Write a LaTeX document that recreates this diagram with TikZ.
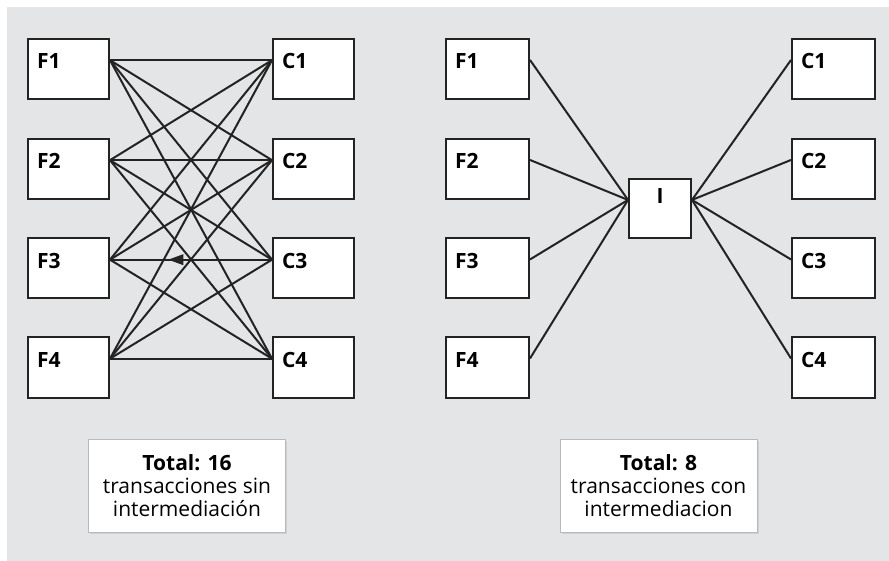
\documentclass[tikz,border=0pt]{standalone}
\usepackage{fontspec}
\setmainfont{Open Sans}
\usepackage{xcolor}
\usepackage{tikz}
\usetikzlibrary{decorations.markings,shadows}

\definecolor{panelgray}{RGB}{228,229,231}
\definecolor{inkline}{RGB}{35,35,35}
\definecolor{totalrim}{RGB}{185,185,185}

\tikzset{
    agentbox/.style={draw=inkline, fill=white, line width=2pt,
        minimum width=#1, minimum height=60pt,
        inner xsep=9pt, inner ysep=0pt,
        text width=#1-18pt, align=left,
        text height=29pt, text depth=29pt,
        font=\fontsize{21}{24}\selectfont\bfseries},
    agentbox/.default=81pt,
    link/.style={draw=inkline, line width=2pt},
    totalbox/.style={draw=totalrim, fill=white, line width=1pt,
        minimum width=197pt, minimum height=93pt, align=center,
        font=\fontsize{21}{23}\selectfont,
        drop shadow={shadow xshift=1.5pt, shadow yshift=-1.5pt, fill=black!25}}
}

\begin{document}
\begin{tikzpicture}[x=1pt, y=-1pt]
        \useasboundingbox (0,0) rectangle (889,561);
        \fill[panelgray] (7,7) rectangle (889,561);

        % sin intermediacion
        \node [agentbox] (f1) at (68.5,69) {F1};
        \node [agentbox] (f2) at (68.5,169) {F2};
        \node [agentbox] (f3) at (68.5,268.5) {F3};
        \node [agentbox] (f4) at (68.5,367.5) {F4};
        \node [agentbox] (c1) at (313.5,69) {C1};
        \node [agentbox] (c2) at (313.5,169) {C2};
        \node [agentbox] (c3) at (313.5,268.5) {C3};
        \node [agentbox] (c4) at (313.5,367.5) {C4};

        \draw[link] (f1.12)--(c1.168);
        \draw[link] (f1.12)--(c2.168);
        \draw[link] (f1.12)--(c3.168);
        \draw[link] (f1.12)--(c4.168);
        \draw[link] (f2.12)--(c1.168);
        \draw[link] (f2.12)--(c2.168);
        \draw[link] (f2.12)--(c3.168);
        \draw[link] (f2.12)--(c4.168);
        \draw[link] (f3.12)--(c1.168);
        \draw[link] (f3.12)--(c2.168);
        \draw[link, postaction={decorate}, decoration={markings,
            mark=at position 0.36 with {\fill[inkline] (0,0)--(15,5.5)--(15,-5.5)--cycle;}}]
            (f3.12)--(c3.168);
        \draw[link] (f3.12)--(c4.168);
        \draw[link] (f4.12)--(c1.168);
        \draw[link] (f4.12)--(c2.168);
        \draw[link] (f4.12)--(c3.168);
        \draw[link] (f4.12)--(c4.168);

        \node [totalbox] (totalsin) at (187,485.5)
            {\textbf{Total: 16}\\transacciones sin\\intermediación};

        % con intermediacion
        \node [agentbox=83pt] (g1) at (487.5,69) {F1};
        \node [agentbox=83pt] (g2) at (487.5,169) {F2};
        \node [agentbox=83pt] (g3) at (487.5,268.5) {F3};
        \node [agentbox=83pt] (g4) at (487.5,367.5) {F4};
        \node [agentbox=83pt] (d1) at (833.5,69) {C1};
        \node [agentbox=83pt] (d2) at (833.5,169) {C2};
        \node [agentbox=83pt] (d3) at (833.5,268.5) {C3};
        \node [agentbox=83pt] (d4) at (833.5,367.5) {C4};

        % I
        \node [agentbox=62pt,
            minimum height=59pt,
            text height=24pt,
            text depth=33pt,
            align=center,
        ] (broker) at (660,208.5) {I\hspace{8pt}};

        \draw[link] (g1.12)--(broker.165);
        \draw[link] (g2.12)--(broker.165);
        \draw[link] (g3.12)--(broker.165);
        \draw[link] (g4.12)--(broker.165);
        \draw[link] (d1.168)--(broker.15);
        \draw[link] (d2.168)--(broker.15);
        \draw[link] (d3.168)--(broker.15);
        \draw[link] (d4.168)--(broker.15);

        \node [totalbox] (totalcon) at (658.5,485.5)
            {\textbf{Total: 8}\\transacciones con\\intermediacion};
\end{tikzpicture}
\end{document}
